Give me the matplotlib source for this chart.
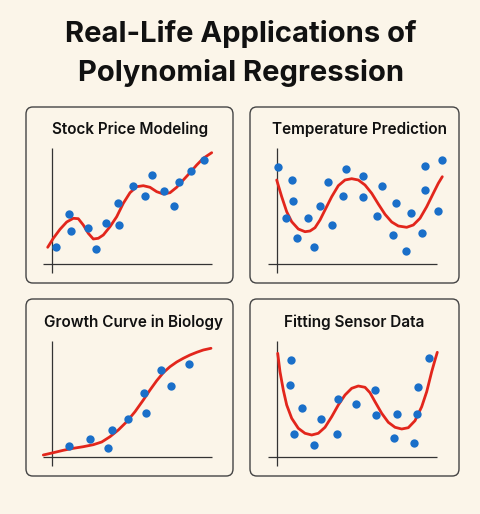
import matplotlib
matplotlib.use("Agg")
import matplotlib.pyplot as plt
from matplotlib.patches import FancyBboxPatch

plt.rcParams['font.family'] = ['Inter', 'DejaVu Sans']

W, H = 481, 514
BG = "#fbf5e9"
BLUE = "#1a6fc9"
RED = "#e2261c"

# ---- data (x, y in chart units, origin at axis crossing) ----
stock_x = [0.37, 1.73, 1.93, 3.57, 4.43, 5.37, 6.73, 6.63, 8.1, 9.27, 10.0, 11.23, 12.23, 12.7, 13.9, 15.17]
stock_y = [1.73, 5.0, 3.33, 3.63, 1.53, 4.1, 3.93, 6.13, 7.77, 6.77, 8.9, 7.33, 5.83, 8.17, 9.33, 10.37]
stock_fit_x = [-0.43, 0.13, 0.8, 1.47, 2.13, 2.63, 3.13, 3.63, 4.13, 4.63, 5.13, 5.8, 6.47, 7.13,
               7.8, 8.47, 9.13, 9.8, 10.47, 11.13, 11.8, 12.47, 13.13, 13.8, 14.47, 15.13, 15.97]
stock_fit_y = [1.67, 2.57, 3.47, 4.2, 4.57, 4.53, 3.9, 3.07, 2.5, 2.57, 2.9, 3.73, 4.73, 6.07,
               7.13, 7.73, 7.83, 7.67, 7.23, 7.0, 7.13, 7.67, 8.4, 9.13, 9.9, 10.57, 11.13]

temp_x = [0.10, 1.50, 1.60, 0.87, 2.0, 3.04, 3.70, 4.24, 5.04, 5.44, 6.84, 6.57, 8.60, 8.57,
          10.47, 9.97, 11.87, 11.6, 12.9, 13.37, 14.44, 14.74, 14.74, 16.04, 16.47]
temp_y = [9.67, 8.4, 6.27, 4.63, 2.57, 4.6, 1.73, 5.83, 8.23, 3.93, 9.5, 6.77, 8.77, 6.7,
          7.77, 4.77, 6.07, 2.9, 1.27, 5.13, 3.07, 7.43, 9.8, 5.33, 10.43]
temp_fit_x = [-0.06, 0.44, 0.94, 1.44, 2.10, 2.77, 3.27, 3.77, 4.27, 4.77, 5.44, 6.10, 6.77, 7.44,
              8.10, 8.77, 9.44, 10.10, 10.77, 11.44, 12.10, 12.94, 13.60, 14.27, 14.94, 15.60, 16.10, 16.50]
temp_fit_y = [8.4, 6.73, 5.23, 4.23, 3.5, 3.23, 3.3, 3.63, 4.4, 5.4, 6.73, 7.83, 8.4, 8.53,
              8.4, 7.9, 7.07, 6.0, 4.97, 4.2, 3.8, 3.67, 3.9, 4.57, 5.73, 7.07, 8.07, 8.73]

growth_x = [1.64, 3.77, 5.60, 6.00, 7.57, 9.37, 9.14, 10.84, 11.90, 13.70]
growth_y = [1.10, 1.80, 0.84, 2.64, 3.77, 4.34, 6.37, 8.64, 7.07, 9.24]
growth_fit_x = [-0.90, 0.10, 1.10, 2.10, 3.10, 4.10, 4.94, 5.77, 6.60, 7.44, 8.27, 9.10, 9.77,
                10.44, 11.10, 11.77, 12.44, 13.10, 13.77, 14.44, 15.10, 15.87]
growth_fit_y = [0.17, 0.40, 0.64, 0.84, 1.0, 1.2, 1.47, 2.0, 2.67, 3.5, 4.5, 5.67, 6.67,
                7.60, 8.40, 9.0, 9.47, 9.84, 10.17, 10.44, 10.67, 10.84]

sensor_x = [1.40, 1.30, 2.44, 1.70, 3.67, 4.37, 6.04, 5.94, 7.84, 9.77, 9.87, 11.97, 11.67,
            13.70, 13.97, 14.04, 15.14]
sensor_y = [9.67, 7.17, 4.87, 2.24, 1.14, 3.77, 5.77, 2.27, 5.30, 6.70, 4.17, 4.27, 1.84,
            1.40, 4.27, 7.00, 9.84]
sensor_fit_x = [0.04, 0.27, 0.60, 0.94, 1.44, 2.10, 2.77, 3.44, 4.10, 4.77, 5.44, 6.10, 6.77,
                7.44, 8.10, 8.77, 9.27, 9.77, 10.44, 11.10, 11.77, 12.44, 13.10, 13.77, 14.44,
                14.94, 15.44, 15.77, 16.00]
sensor_fit_y = [10.34, 8.50, 6.67, 5.17, 3.84, 2.84, 2.34, 2.17, 2.34, 2.94, 4.0, 5.17, 6.17,
                6.84, 7.07, 6.94, 6.40, 5.50, 4.34, 3.44, 2.94, 2.77, 2.90, 3.60, 5.0,
                6.50, 8.50, 9.67, 10.44]

titles = ["Stock Price Modeling", "Temperature Prediction",
          "Growth Curve in Biology", "Fitting Sensor Data"]

# ---- layout in pixels ----
# (box left, box top, box right, box bottom, origin x, origin y, title x, title y)
panels = [
    (26, 107, 233, 283, 52.0, 264.0, 130, 129),
    (250, 107, 459, 283, 277.3, 264.0, 360, 129),
    (26, 299, 233, 476, 52.3, 456.7, 134, 322),
    (250, 299, 459, 476, 277.3, 456.7, 354, 322),
]
series = [
    (stock_x, stock_y, stock_fit_x, stock_fit_y),
    (temp_x, temp_y, temp_fit_x, temp_fit_y),
    (growth_x, growth_y, growth_fit_x, growth_fit_y),
    (sensor_x, sensor_y, sensor_fit_x, sensor_fit_y),
]

fig = plt.figure(figsize=(W / 100, H / 100), dpi=100)
fig.patch.set_facecolor(BG)

fig.text(241 / W, 1 - 34 / H, "Real-Life Applications of", ha="center", va="center",
         fontsize=21, fontweight="bold", color="#111111")
fig.text(241 / W, 1 - 73 / H, "Polynomial Regression", ha="center", va="center",
         fontsize=21, fontweight="bold", color="#111111")

PX = 10.0  # pixels per chart unit
for (bl, bt, br, bb, ox, oy, tx, ty), (px_, py_, fx, fy), title in zip(panels, series, titles):
    box = FancyBboxPatch((bl / W, 1 - bb / H), (br - bl) / W, (bb - bt) / H,
                         boxstyle="round,pad=0,rounding_size=0.014",
                         transform=fig.transFigure, facecolor="none",
                         edgecolor="#444444", linewidth=1.0, zorder=0)
    fig.patches.append(box)
    fig.text(tx / W, 1 - ty / H, title, ha="center", va="center",
             fontsize=11, fontweight="semibold", color="#111111")

    x0, x1 = -1.2, 17.5
    y0, y1 = -1.2, 12.5
    ax = fig.add_axes([(ox + x0 * PX) / W, 1 - (oy - y0 * PX) / H,
                       (x1 - x0) * PX / W, (y1 - y0) * PX / H])
    ax.set_zorder(1)
    ax.set_xlim(x0, x1)
    ax.set_ylim(y0, y1)
    ax.axis("off")
    ax.vlines(0, -0.9, 11.6, color="#333333", linewidth=0.9)
    ax.hlines(0, -0.9, 16.0, color="#333333", linewidth=0.9)
    ax.plot(fx, fy, color=RED, linewidth=2.0, solid_capstyle="round",
            solid_joinstyle="round", zorder=2, clip_on=False)
    ax.plot(px_, py_, "o", color=BLUE, markersize=6, markeredgewidth=0,
            zorder=3, clip_on=False)

fig.savefig("out.png", dpi=100, facecolor=BG)
